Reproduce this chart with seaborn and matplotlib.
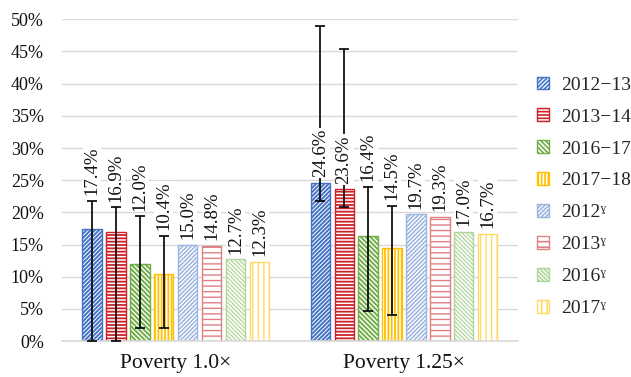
import numpy as np
import pandas as pd
import matplotlib
matplotlib.use("Agg")
import matplotlib.pyplot as plt
from matplotlib.patches import Patch
import seaborn as sns

# --- data -----------------------------------------------------------------
groups = ["Poverty 1.0×", "Poverty 1.25×"]
series = ["2012−13", "2013−14", "2016−17", "2017−18",
          "2012ˠ", "2013ˠ", "2016ˠ", "2017ˠ"]

v_2012_13 = [17.4, 24.6]
v_2013_14 = [16.9, 23.6]
v_2016_17 = [12.0, 16.4]
v_2017_18 = [10.4, 14.5]
v_2012g = [15.0, 19.7]
v_2013g = [14.8, 19.3]
v_2016g = [12.7, 17.0]
v_2017g = [12.3, 16.7]
values = [v_2012_13, v_2013_14, v_2016_17, v_2017_18,
          v_2012g, v_2013g, v_2016g, v_2017g]

# confidence bounds for the survey-year series (lower, upper)
ci_low = [[0.0, 21.8], [0.0, 20.9], [2.1, 4.7], [2.1, 4.0]]
ci_high = [[21.8, 48.9], [20.8, 45.3], [19.4, 24.0], [16.4, 21.0]]

# --- styling ----------------------------------------------------------------
colors = ["#4472C4", "#CC2229", "#70AD47", "#FFC000",
          "#9DB4E0", "#E07F84", "#B2D59A", "#FFD966"]
hatches = ["/" * 8, "-----", "\\" * 7, "|||||",
           "/" * 8, "---", "\\" * 8, "|||"]
hatch_lw = [1.4, 1.3, 1.4, 1.3, 1.1, 1.0, 0.9, 1.0]

sns.set_theme(style="white")
plt.rcParams["font.family"] = ["Liberation Serif", "DejaVu Serif"]
plt.rcParams["hatch.linewidth"] = 1.2

df = pd.DataFrame({
    "group": np.repeat([groups], len(series), axis=0).ravel(),
    "series": np.repeat(series, len(groups)),
    "value": np.concatenate(values),
})

fig = plt.figure(figsize=(6.31, 3.77), dpi=100)
ax = fig.add_axes([0.098, 0.095, 0.723, 0.854])

sns.barplot(data=df, x="group", y="value", hue="series", hue_order=series,
            order=groups, palette=colors, width=0.84, gap=0.2,
            legend=False, ax=ax, zorder=2)

bar_containers = list(ax.containers)


def style_patch(p, i):
    p.set_facecolor("white")
    p.set_edgecolor(colors[i])
    p.set_hatch(hatches[i])
    p.set_linewidth(1.0)
    if hasattr(p, "set_hatch_linewidth"):
        p.set_hatch_linewidth(hatch_lw[i])


for i, cont in enumerate(bar_containers):
    for bar in cont:
        style_patch(bar, i)

# error bars and rotated value labels
for i, cont in enumerate(bar_containers):
    for j, bar in enumerate(cont):
        xc = bar.get_x() + bar.get_width() / 2
        val = values[i][j]
        anchor = val
        if i < len(ci_low):
            lo, hi = ci_low[i][j], ci_high[i][j]
            ax.errorbar(xc, val, yerr=[[val - lo], [hi - val]], fmt="none",
                        ecolor="black", elinewidth=1.2, capsize=3.5,
                        capthick=1.2, zorder=3)
            if hi < 30:
                anchor = hi
        ax.annotate(f"{val:.1f}%", (xc, anchor), xytext=(0, 4),
                    textcoords="offset points", rotation=90,
                    ha="center", va="bottom", fontsize=13.5, color="#111111",
                    bbox=dict(boxstyle="square,pad=0.05", fc="white",
                              ec="none"), zorder=4)

ax.set_ylim(0, 50)
ax.set_xlim(-0.5, 1.5)
ax.set_yticks(np.arange(0, 51, 5))
ax.set_yticklabels([f"{t}%" for t in range(0, 51, 5)])
ax.yaxis.grid(True, color="#d9d9d9", linewidth=1.0, zorder=0)
ax.set_axisbelow(True)
for s in ["left", "right", "top"]:
    ax.spines[s].set_visible(False)
ax.spines["bottom"].set_color("#d9d9d9")
ax.spines["bottom"].set_linewidth(1.2)
ax.tick_params(axis="y", length=0, pad=13, labelsize=13, labelcolor="#111111")
ax.tick_params(axis="x", length=0, pad=9, labelsize=15.5, labelcolor="#111111")
ax.set_xlabel("")
ax.set_ylabel("")

handles = []
for i in range(len(series)):
    h = Patch(facecolor="white", edgecolor=colors[i], hatch=hatches[i],
              linewidth=1.0)
    if hasattr(h, "set_hatch_linewidth"):
        h.set_hatch_linewidth(hatch_lw[i])
    handles.append(h)
fig.legend(handles, series, loc="upper left", bbox_to_anchor=(0.851, 0.797),
           frameon=False, fontsize=14, handlelength=0.62, handleheight=0.62,
           handletextpad=0.62, labelspacing=0.76, borderpad=0,
           borderaxespad=0)

fig.savefig("out.png", dpi=100)
